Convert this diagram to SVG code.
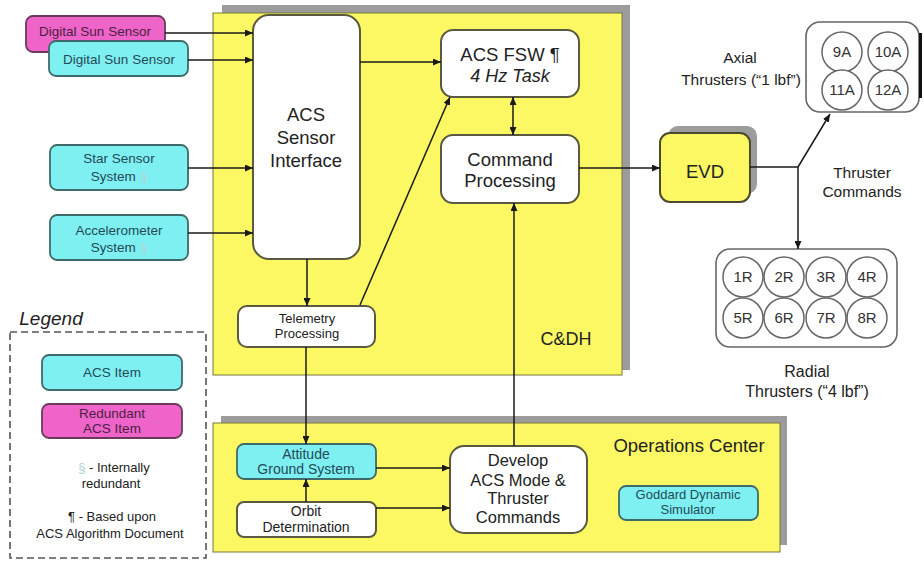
<svg xmlns="http://www.w3.org/2000/svg" width="924" height="561" viewBox="0 0 924 561">
  <defs>
    <marker id="arrow" viewBox="0 0 8 7" refX="8" refY="3.5" markerWidth="8" markerHeight="7" markerUnits="userSpaceOnUse" orient="auto-start-reverse">
      <path d="M0,0 L8,3.5 L0,7 z" fill="#1a1a1a"/>
    </marker>
  </defs>
  <style>
    text { font-family: "Liberation Sans", Arial, sans-serif; text-anchor: middle; fill: #222; }
    .panel { fill: #FCF863; stroke: #77773a; stroke-width: 1; }
    .shadow { fill: #9c9c9c; }
    .white { fill: #ffffff; stroke: #5a5a40; stroke-width: 2; }
    .cyan { fill: #7FF0F2; stroke: #3f6a6a; stroke-width: 1.8; }
    .pink { fill: #EF64C8; stroke: #6a3a5a; stroke-width: 1.8; }
    .cyan-t { fill: #234a55; }
    .pink-t { fill: #4a1f44; }
    .group { fill: #ffffff; stroke: #666; stroke-width: 1.6; }
    .thr { fill: #ffffff; stroke: #666; stroke-width: 1.5; }
    .thr-t { font-size: 15px; fill: #333; }
    .pale { fill: #b4d4d4; }
    .conn line, .conn polyline { stroke: #1a1a1a; stroke-width: 1.5; fill: none; }
    .legend { fill: none; stroke: #555; stroke-width: 1.6; stroke-dasharray: 7 4; }
  </style>

  <!-- C&DH panel -->
  <g id="cdh">
    <rect class="shadow" x="222" y="5" width="408" height="365"/>
    <rect class="panel" x="213" y="13" width="409" height="362"/>
    <text x="566" y="345" font-size="18">C&amp;DH</text>
  </g>

  <!-- Operations Center panel -->
  <g id="ops">
    <rect class="shadow" x="221" y="416" width="566" height="129"/>
    <rect class="panel" x="213" y="423" width="567" height="129"/>
    <text x="689" y="452" font-size="18.5">Operations Center</text>
  </g>

  <!-- Sensors -->
  <g id="dss-redundant">
    <rect class="pink" x="26" y="16" width="139" height="36" rx="7"/>
    <text class="pink-t" x="95" y="36" font-size="13.5">Digital Sun Sensor</text>
  </g>
  <g id="dss">
    <rect class="cyan" x="49" y="41" width="139" height="35" rx="7"/>
    <text class="cyan-t" x="119" y="64" font-size="13.5">Digital Sun Sensor</text>
  </g>
  <g id="star-sensor">
    <rect class="cyan" x="50" y="145" width="138" height="45" rx="7"/>
    <text class="cyan-t" x="119" y="163" font-size="13.5">Star Sensor</text>
    <text class="cyan-t" x="119" y="181" font-size="13.5">System <tspan class="pale">§</tspan></text>
  </g>
  <g id="accelerometer">
    <rect class="cyan" x="50" y="215" width="138" height="45" rx="7"/>
    <text class="cyan-t" x="119" y="235" font-size="13.5">Accelerometer</text>
    <text class="cyan-t" x="119" y="252" font-size="13.5">System <tspan class="pale">§</tspan></text>
  </g>

  <!-- Flight software blocks -->
  <g id="sensor-interface">
    <rect class="white" x="253" y="15" width="107" height="244" rx="16"/>
    <text x="306" y="121" font-size="18.5">ACS</text>
    <text x="306" y="144" font-size="18.5">Sensor</text>
    <text x="306" y="167" font-size="18.5">Interface</text>
  </g>
  <g id="acs-fsw">
    <rect class="white" x="441" y="30" width="138" height="67" rx="12"/>
    <text x="510" y="61" font-size="18.5">ACS FSW ¶</text>
    <text x="510" y="82" font-size="18" font-style="italic">4 Hz Task</text>
  </g>
  <g id="command-processing">
    <rect class="white" x="441" y="135" width="138" height="68" rx="12"/>
    <text x="510" y="166" font-size="18.5">Command</text>
    <text x="510" y="187" font-size="18.5">Processing</text>
  </g>
  <g id="telemetry">
    <rect class="white" x="238" y="306" width="137" height="41" rx="9"/>
    <text x="307" y="323" font-size="13">Telemetry</text>
    <text x="307" y="338" font-size="13">Processing</text>
  </g>

  <!-- EVD -->
  <g id="evd">
    <rect class="shadow" x="668" y="126" width="89" height="68" rx="10"/>
    <rect x="660" y="133" width="90" height="69" rx="10" fill="#FCF863" stroke="#4a4a30" stroke-width="2"/>
    <text x="705" y="178" font-size="18.5">EVD</text>
  </g>

  <!-- Axial thrusters -->
  <g id="axial">
    <rect class="group" x="806" y="22" width="113" height="90" rx="14"/>
    <rect x="919" y="33" width="3" height="65" fill="#111"/>
    <circle class="thr" cx="842" cy="52" r="20"/>
    <circle class="thr" cx="888" cy="52" r="20"/>
    <circle class="thr" cx="842" cy="90" r="20"/>
    <circle class="thr" cx="888" cy="90" r="20"/>
    <text class="thr-t" x="842" y="57">9A</text>
    <text class="thr-t" x="888" y="57">10A</text>
    <text class="thr-t" x="842" y="95">11A</text>
    <text class="thr-t" x="888" y="95">12A</text>
    <text x="740" y="63" font-size="15.5" fill="#333">Axial</text>
    <text x="741" y="85" font-size="15.5" fill="#333">Thrusters (“1 lbf”)</text>
  </g>

  <!-- Radial thrusters -->
  <g id="radial">
    <rect class="group" x="716" y="249" width="181" height="98" rx="14"/>
    <circle class="thr" cx="743" cy="277" r="20"/>
    <circle class="thr" cx="784" cy="277" r="20"/>
    <circle class="thr" cx="826" cy="277" r="20"/>
    <circle class="thr" cx="867" cy="277" r="20"/>
    <circle class="thr" cx="743" cy="318" r="20"/>
    <circle class="thr" cx="784" cy="318" r="20"/>
    <circle class="thr" cx="826" cy="318" r="20"/>
    <circle class="thr" cx="867" cy="318" r="20"/>
    <text class="thr-t" x="743" y="282">1R</text>
    <text class="thr-t" x="784" y="282">2R</text>
    <text class="thr-t" x="826" y="282">3R</text>
    <text class="thr-t" x="867" y="282">4R</text>
    <text class="thr-t" x="743" y="323">5R</text>
    <text class="thr-t" x="784" y="323">6R</text>
    <text class="thr-t" x="826" y="323">7R</text>
    <text class="thr-t" x="867" y="323">8R</text>
    <text x="807" y="377" font-size="16" fill="#333">Radial</text>
    <text x="807" y="397" font-size="16" fill="#333">Thrusters (“4 lbf”)</text>
  </g>

  <g id="thruster-commands-label">
    <text x="862" y="178" font-size="15.5" fill="#333">Thruster</text>
    <text x="862" y="197" font-size="15.5" fill="#333">Commands</text>
  </g>

  <!-- Ground segment blocks -->
  <g id="attitude-ground">
    <rect class="cyan" x="237" y="444" width="139" height="35" rx="7"/>
    <text class="cyan-t" x="306" y="459" font-size="14">Attitude</text>
    <text class="cyan-t" x="306" y="474" font-size="14">Ground System</text>
  </g>
  <g id="orbit-determination">
    <rect class="white" x="237" y="502" width="139" height="35" rx="7" stroke-width="1.8"/>
    <text x="306" y="516" font-size="14">Orbit</text>
    <text x="306" y="532" font-size="14">Determination</text>
  </g>
  <g id="develop">
    <rect class="white" x="450" y="446" width="137" height="87" rx="14"/>
    <text x="518" y="466" font-size="16.5">Develop</text>
    <text x="518" y="486" font-size="16.5">ACS Mode &amp;</text>
    <text x="518" y="504" font-size="16.5">Thruster</text>
    <text x="518" y="523" font-size="16.5">Commands</text>
  </g>
  <g id="goddard">
    <rect class="cyan" x="619" y="486" width="139" height="34" rx="7"/>
    <text class="cyan-t" x="688" y="499" font-size="13">Goddard Dynamic</text>
    <text class="cyan-t" x="688" y="514" font-size="13">Simulator</text>
  </g>

  <!-- Legend -->
  <g id="legend">
    <text x="51" y="325" font-size="19" font-style="italic">Legend</text>
    <rect class="legend" x="10" y="332" width="196" height="226"/>
    <rect class="cyan" x="42" y="355" width="140" height="35" rx="7"/>
    <text class="cyan-t" x="112" y="377" font-size="13.5">ACS Item</text>
    <rect class="pink" x="42" y="404" width="140" height="34" rx="7"/>
    <text class="pink-t" x="112" y="418" font-size="13.5">Redundant</text>
    <text class="pink-t" x="112" y="433" font-size="13.5">ACS Item</text>
    <text x="114" y="472" font-size="13"><tspan class="pale">§</tspan>  - Internally</text>
    <text x="111" y="488" font-size="13">redundant</text>
    <text x="112" y="521" font-size="13">¶ - Based upon</text>
    <text x="110" y="538" font-size="13">ACS Algorithm  Document</text>
  </g>

  <!-- Connectors -->
  <g id="connectors" class="conn">
    <line x1="165" y1="33" x2="253" y2="33" marker-end="url(#arrow)"/>
    <line x1="188" y1="60" x2="253" y2="60" marker-end="url(#arrow)"/>
    <line x1="188" y1="168" x2="253" y2="168" marker-end="url(#arrow)"/>
    <line x1="188" y1="233" x2="253" y2="233" marker-end="url(#arrow)"/>
    <line x1="360" y1="62" x2="441" y2="62" marker-end="url(#arrow)"/>
    <line x1="307" y1="259" x2="307" y2="306" marker-end="url(#arrow)"/>
    <line x1="360" y1="305" x2="450" y2="97" marker-end="url(#arrow)"/>
    <line x1="513" y1="97" x2="513" y2="135" marker-start="url(#arrow)" marker-end="url(#arrow)"/>
    <line x1="579" y1="168" x2="660" y2="168" marker-end="url(#arrow)"/>
    <line x1="750" y1="167" x2="798" y2="167"/>
    <line x1="798" y1="167" x2="830" y2="114" marker-end="url(#arrow)"/>
    <line x1="798" y1="167" x2="798" y2="249" marker-end="url(#arrow)"/>
    <line x1="306" y1="347" x2="306" y2="444" marker-end="url(#arrow)"/>
    <line x1="306" y1="502" x2="306" y2="479" marker-end="url(#arrow)"/>
    <line x1="376" y1="468" x2="450" y2="468" marker-end="url(#arrow)"/>
    <line x1="376" y1="508" x2="450" y2="508" marker-end="url(#arrow)"/>
    <line x1="514" y1="446" x2="514" y2="203" marker-end="url(#arrow)"/>
  </g>
</svg>
